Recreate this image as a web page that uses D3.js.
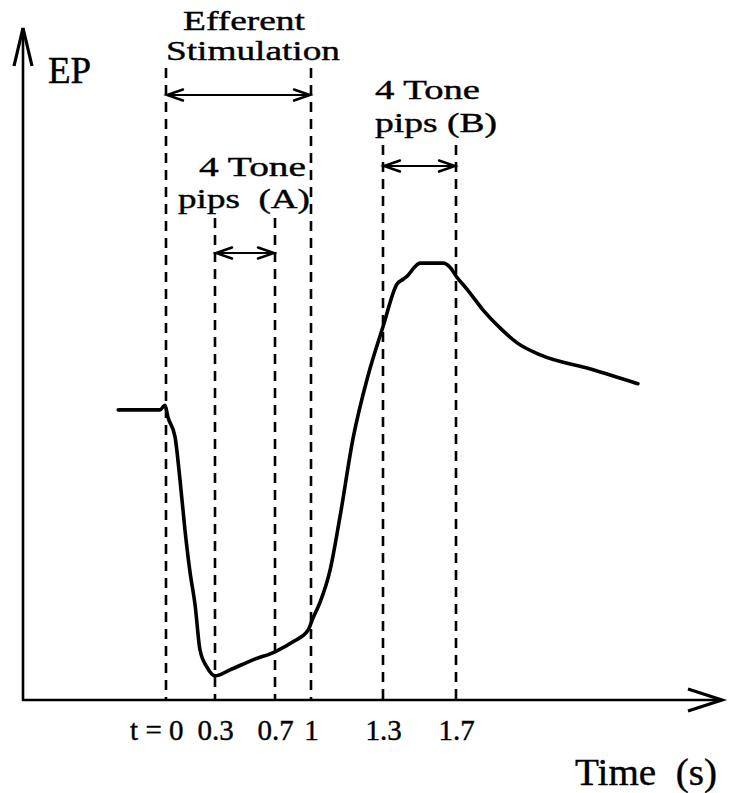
<!DOCTYPE html>
<html>
<head>
<meta charset="utf-8">
<script src="https://cdn.jsdelivr.net/npm/d3@7"></script>
<style>
  html, body { margin: 0; padding: 0; background: #fff; }
  svg { display: block; }
  text { font-family: "Liberation Serif", "Times New Roman", serif; fill: #000; stroke: #000; stroke-width: 0.4px; }
</style>
</head>
<body>
<svg id="chart" width="735" height="793"></svg>
<script>
// ---- data (time in s, EP in arbitrary units) ----
const epTime = [-0.294, -0.037, -0.006, 0.012, 0.055, 0.086, 0.116, 0.147, 0.178, 0.208, 0.251, 0.30,
  0.40, 0.553, 0.70, 0.85, 0.975, 1.008, 1.038, 1.079, 1.121, 1.175, 1.2375, 1.30, 1.377, 1.41,
  1.437, 1.47, 1.503, 1.63, 1.667, 1.705, 1.761, 1.849, 1.943, 2.036, 2.163, 2.439, 2.699];
const epValue = [4.33, 4.33, 4.40, 4.22, 3.93, 3.28, 2.54, 1.91, 1.42, 0.75, 0.49, 0.36,
  0.45, 0.60, 0.72, 0.87, 1.04, 1.22, 1.46, 1.93, 2.74, 3.90, 4.84, 5.57, 6.21, 6.28,
  6.34, 6.45, 6.52, 6.52, 6.46, 6.31, 6.13, 5.82, 5.55, 5.33, 5.15, 4.94, 4.72];
const tickValues = [0, 0.3, 0.7, 1, 1.3, 1.7];
const tickLabels = ["t = 0", "0.3", "0.7", "1", "1.3", "1.7"];
const spanStart = [0, 0.3, 1.3];
const spanEnd = [1, 0.7, 1.7];
const spanLabels = [["Efferent", "Stimulation"], ["4 Tone", "pips  (A)"], ["4 Tone", "pips (B)"]];
const yLabel = "EP";
const xLabel = "Time  (s)";

// ---- layout ----
const svg = d3.select("#chart");
const axisX = 23, axisY = 700, yTop = 28, xRight = 722;

// schematic (non-uniform) time axis, as drawn in the original
const x = d3.scaleLinear()
  .domain([-0.88, 0, 0.3, 0.7, 1, 1.3, 1.7, 3.15])
  .range([axisX, 166, 215, 275, 311, 383, 456, 720]);
const y = d3.scaleLinear().domain([0, 10]).range([axisY, 30]);

// span layout: dashed-line tops, arrow levels, label positions / widths
const spanTop = [68, 218, 145];
const spanArrowY = [95, 253, 166];
const spanLabelPos = [
  [{x: 183, y: 30, w: 122}, {x: 166, y: 60, w: 174}],
  [{x: 199, y: 176, w: 107}, {x: 178, y: 208, w: 132}],
  [{x: 375, y: 99, w: 105}, {x: 375, y: 132, w: 122}]
];

// dashed vertical lines
const dashed = [];
spanStart.forEach((s, i) => {
  dashed.push({t: s, top: spanTop[i]});
  dashed.push({t: spanEnd[i], top: spanTop[i]});
});
svg.append("g").selectAll("line").data(dashed).join("line")
  .attr("x1", d => x(d.t)).attr("x2", d => x(d.t))
  .attr("y1", d => d.top).attr("y2", axisY)
  .attr("stroke", "#000").attr("stroke-width", 2.6)
  .attr("stroke-dasharray", "10,7");

// double-headed arrows
function vhead(g, tipX, tipY, dir, len, half, w) {
  g.append("path")
    .attr("d", `M${tipX - dir * len},${tipY - half} L${tipX},${tipY} L${tipX - dir * len},${tipY + half}`)
    .attr("fill", "none").attr("stroke", "#000").attr("stroke-width", w)
    .attr("stroke-linejoin", "miter").attr("stroke-linecap", "round");
}
const arrows = svg.append("g");
spanStart.forEach((s, i) => {
  const x1 = x(s), x2 = x(spanEnd[i]), yy = spanArrowY[i];
  arrows.append("line").attr("x1", x1).attr("x2", x2).attr("y1", yy).attr("y2", yy)
    .attr("stroke", "#000").attr("stroke-width", 1.8);
  vhead(arrows, x1 + 1, yy, -1, 16, 5.5, 2.4);
  vhead(arrows, x2 - 1, yy, 1, 16, 5.5, 2.4);
});

// span labels
spanLabels.forEach((lines, i) => {
  lines.forEach((txt, j) => {
    const p = spanLabelPos[i][j];
    svg.append("text").attr("x", p.x).attr("y", p.y)
      .attr("text-anchor", "start")
      .style("white-space", "pre")
      .attr("font-size", 27.5)
      .attr("textLength", p.w).attr("lengthAdjust", "spacingAndGlyphs")
      .text(txt);
  });
});

// axes lines with open arrowheads
const axes = svg.append("g");
axes.append("path")
  .attr("d", `M${axisX},${axisY} L${axisX},${yTop} M${axisX - 1.2},${axisY} L${xRight},${axisY}`)
  .attr("fill", "none").attr("stroke", "#000").attr("stroke-width", 2.6);
axes.append("path")
  .attr("d", `M${axisX - 9},${yTop + 38} L${axisX},${yTop} L${axisX + 9},${yTop + 38}`)
  .attr("fill", "none").attr("stroke", "#000").attr("stroke-width", 3.2);
axes.append("path")
  .attr("d", `M${xRight - 34},${axisY - 11} L${xRight},${axisY} L${xRight - 34},${axisY + 11}`)
  .attr("fill", "none").attr("stroke", "#000").attr("stroke-width", 3.2);

// tick labels via d3 axis
const xAxis = d3.axisBottom(x).tickValues(tickValues)
  .tickFormat((d, i) => tickLabels[i]).tickSize(0).tickPadding(0);
const gx = svg.append("g").attr("transform", `translate(0,${axisY})`).call(xAxis);
gx.select(".domain").remove();
gx.selectAll("text")
  .attr("font-family", "Liberation Serif, Times New Roman, serif")
  .attr("font-size", 29).attr("fill", "#000")
  .attr("dy", null).attr("y", 40);
gx.selectAll(".tick").filter(d => d === 0).select("text")
  .attr("text-anchor", "end").attr("x", 17);

// axis titles
svg.append("text").attr("x", 48).attr("y", 83).attr("font-size", 37).text(yLabel);
svg.append("text").attr("x", 575).attr("y", 785).attr("font-size", 37)
  .style("white-space", "pre").attr("textLength", 142).attr("lengthAdjust", "spacingAndGlyphs")
  .text(xLabel);

// EP curve
const pts = epTime.map((t, i) => [t, epValue[i]]);
const line = d3.line().x(d => x(d[0])).y(d => y(d[1])).curve(d3.curveMonotoneX);
svg.append("path").datum(pts).attr("d", line)
  .attr("fill", "none").attr("stroke", "#000").attr("stroke-width", 3.6)
  .attr("stroke-linejoin", "round").attr("stroke-linecap", "round");
</script>
</body>
</html>
